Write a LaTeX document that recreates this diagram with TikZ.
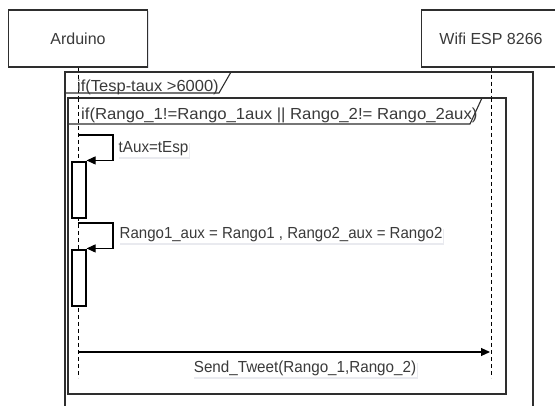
\documentclass[tikz,border=0pt]{standalone}
\usepackage{fontspec}
\setmainfont{Liberation Sans}
\usetikzlibrary{arrows.meta,shadows}
\definecolor{ink}{HTML}{2E2E2E}
\definecolor{txt}{HTML}{3A3A3A}
\definecolor{shadowc}{HTML}{8A90A8}
\begin{document}
\begin{tikzpicture}[x=1pt,y=-1pt,
  font=\fontsize{16}{19}\selectfont,
  softshadow/.style={drop shadow={shadow xshift=1pt, shadow yshift=-2pt, opacity=0.18, fill=shadowc}},
  lbl/.style={text=txt, inner sep=0.5pt, fill=white, softshadow},
  tablbl/.style={text=txt, inner sep=0pt},
  actor/.style={draw=ink, line width=1.1pt, fill=white, text=txt, minimum width=139pt, minimum height=57pt, inner sep=0pt, drop shadow={shadow xshift=1.5pt, shadow yshift=-1.5pt, opacity=0.25, fill=shadowc}},
  lifeline/.style={draw=black, line width=1pt, dash pattern=on 4pt off 3pt},
  frameline/.style={draw=ink, line width=1.1pt},
  actbox/.style={draw=black, line width=1.1pt, fill=white, minimum width=14pt, minimum height=56pt, inner sep=0pt},
  msg/.style={draw=black, line width=1.1pt, -{Triangle[length=9pt,width=8pt]}}]
\useasboundingbox[fill=white] (0,0) rectangle (555,406);

% participants
\node[actor] (ard) at (78,38.5) {Arduino};
\node[actor] (esp) at (491,38.5) {Wifi ESP 8266};

% lifelines
\coordinate (ardEnd) at (78,378);
\coordinate (espEnd) at (491,378);
\draw[lifeline] (ard.south) -- (ardEnd);
\draw[lifeline] (esp.south) -- (espEnd);

% outer frame
\draw[frameline] (65,430) -- (65,72) -- (533,72) -- (533,430);
\draw[frameline] (65,93) -- (219,93) -- (231,72);
\node[tablbl, anchor=base west] (tabA) at (77,92) {\scalebox{1.03}[1]{if(Tesp-taux >6000)}};

% inner frame
\draw[frameline, fill=white] (68,98) rectangle (506,394);
\draw[lifeline] (78,98) -- (ardEnd);
\draw[lifeline] (491,98) -- (espEnd);
\draw[frameline] (68,124) -- (470,124) -- (482,98);
\node[tablbl, anchor=base west] (tabB) at (81,120) {\scalebox{1.045}[1]{if(Rango\_1!=Rango\_1aux || Rango\_2!= Rango\_2aux)}};

% activation boxes
\node[actbox] (act1) at (79,190) {};
\node[actbox] (act2) at (79,278) {};

% self message 1
\coordinate (s1a) at (78,135);
\coordinate (s1b) at (113,135);
\draw[msg] (s1a) -- (s1b) |- ([yshift=1pt]act1.north east);
\node[lbl, anchor=base west] (m1) at (118,153) {\scalebox{0.95}[1]{tAux=tEsp}};

% self message 2
\coordinate (s2a) at (78,223);
\coordinate (s2b) at (113,223);
\draw[msg] (s2a) -- (s2b) |- ([yshift=1pt]act2.north east);
\node[lbl, anchor=base west] (m2) at (119,239) {\scalebox{0.94}[1]{Rango1\_aux = Rango1 , Rango2\_aux = Rango2}};

% send tweet
\coordinate (st1) at (78,352);
\coordinate (st2) at (490,352);
\draw[msg] (st1) -- (st2);
\node[lbl, anchor=base] (m3) at (305,373) {\scalebox{0.95}[1]{Send\_Tweet(Rango\_1,Rango\_2)}};
\end{tikzpicture}
\end{document}
